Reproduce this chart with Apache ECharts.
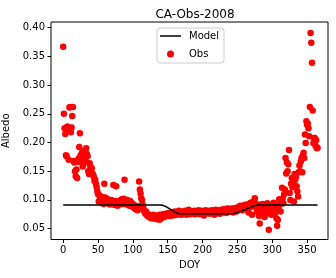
<!DOCTYPE html>
<html>
<head>
<meta charset="utf-8">
<script src="https://cdn.jsdelivr.net/npm/echarts@6/dist/echarts.min.js"></script>
<style>
html,body{margin:0;padding:0;background:#fff;}
#chart{width:336px;height:278px;}
</style>
</head>
<body>
<div id="chart"></div>
<script>
// Observed albedo, one value per DOY starting at 0
var obsStartDoy = 0;
var obsAlbedo = [
0.367,0.250,0.225,0.215,0.178,0.176,0.228,0.222,0.170,0.261,
0.262,0.218,0.226,0.246,0.262,0.168,0.165,0.150,0.141,0.153,
0.138,0.166,0.172,0.192,0.216,0.178,0.170,0.182,0.158,0.162,
0.185,0.174,0.168,0.190,0.180,0.176,0.150,0.145,0.164,0.158,
0.150,0.155,0.146,0.144,0.140,0.133,0.135,0.128,0.122,0.115,
0.110,0.097,0.108,0.103,0.100,0.095,0.105,0.098,0.093,0.128,
0.104,0.100,0.096,0.102,0.094,0.099,0.097,0.092,0.095,0.100,
0.098,0.093,0.126,0.096,0.091,0.098,0.124,0.094,0.090,0.097,
0.095,0.092,0.099,0.096,0.101,0.093,0.098,0.102,0.135,0.099,
0.096,0.092,0.100,0.097,0.094,0.090,0.098,0.093,0.095,0.091,
0.088,0.092,0.086,0.090,0.084,0.083,0.087,0.082,0.089,0.132,
0.118,0.111,0.103,0.100,0.092,0.086,0.082,0.078,0.076,0.080,
0.074,0.072,0.075,0.070,0.073,0.071,0.068,0.072,0.069,0.074,
0.071,0.067,0.073,0.070,0.068,0.072,0.066,0.070,0.074,0.066,
0.071,0.073,0.069,0.075,0.072,0.070,0.074,0.076,0.072,0.075,
0.073,0.077,0.074,0.072,0.076,0.078,0.074,0.076,0.073,0.077,
0.080,0.075,0.078,0.074,0.076,0.079,0.081,0.076,0.078,0.074,
0.080,0.077,0.075,0.079,0.076,0.081,0.078,0.074,0.077,0.080,
0.083,0.078,0.075,0.079,0.077,0.080,0.076,0.078,0.081,0.075,
0.079,0.077,0.080,0.076,0.082,0.078,0.075,0.079,0.081,0.077,
0.080,0.076,0.073,0.079,0.082,0.078,0.080,0.077,0.081,0.079,
0.076,0.080,0.078,0.082,0.079,0.077,0.081,0.074,0.079,0.083,
0.080,0.078,0.082,0.079,0.081,0.076,0.080,0.083,0.078,0.081,
0.079,0.084,0.080,0.082,0.077,0.081,0.085,0.079,0.082,0.084,
0.080,0.083,0.085,0.081,0.078,0.084,0.082,0.086,0.083,0.080,
0.085,0.087,0.083,0.088,0.090,0.084,0.087,0.082,0.089,0.086,
0.091,0.088,0.085,0.092,0.089,0.087,0.078,0.093,0.090,0.095,
0.088,0.074,0.096,0.091,0.098,0.103,0.094,0.088,0.082,0.079,
0.085,0.072,0.059,0.092,0.078,0.086,0.075,0.093,0.081,0.070,
0.088,0.083,0.076,0.094,0.080,0.048,0.085,0.078,0.090,0.074,
0.087,0.080,0.095,0.083,0.077,0.089,0.068,0.055,0.065,0.084,
0.101,0.092,0.080,0.098,0.121,0.102,0.094,0.110,0.118,0.173,
0.146,0.165,0.150,0.162,0.187,0.112,0.100,0.128,0.138,0.122,
0.132,0.097,0.145,0.135,0.140,0.124,0.115,0.106,0.148,0.160,
0.150,0.167,0.173,0.148,0.178,0.182,0.173,0.214,0.199,0.237,
0.231,0.233,0.225,0.211,0.262,0.391,0.374,0.339,0.256,0.199,
0.208,0.208,0.195,0.204,0.190,0.191
];
// Model curve
var modelDoy = [0,138,143,148,153,158,162,166,240,245,250,255,260,265,270,275,278,365];
var modelAlbedo = [0.091,0.091,0.0905,0.088,0.0845,0.0805,0.078,0.0757,0.0757,0.0765,0.078,0.0805,0.0825,0.085,0.0875,0.090,0.091,0.091];
var xTicks = [0,50,100,150,200,250,300,350];
var yTicks = [0.05,0.10,0.15,0.20,0.25,0.30,0.35,0.40];
var titleText = 'CA-Obs-2008';
var xName = 'DOY';
var yName = 'Albedo';

var obsData = obsAlbedo.map(function(v,i){return [obsStartDoy+i, v];});
var modelData = modelDoy.map(function(d,i){return [d, modelAlbedo[i]];});

var font = 'DejaVu Sans';
var chart = echarts.init(document.getElementById('chart'), null, {renderer:'canvas'});
chart.setOption({
  animation:false,
  backgroundColor:'#fff',
  title:{text:titleText,left:190,top:4,textAlign:'center',
    textStyle:{fontFamily:font,fontSize:12,fontWeight:'normal',color:'#000'}},
  legend:{
    orient:'vertical',left:157,top:28,
    padding:[2,5,3,3],itemGap:6,itemWidth:21,itemHeight:7,
    backgroundColor:'rgba(255,255,255,0.8)',borderColor:'#ccc',borderWidth:1,borderRadius:3,
    textStyle:{fontFamily:font,fontSize:10,color:'#000',padding:[0,0,0,3],lineHeight:12},
    data:[{name:'Model',icon:'path://M0,0H21V1.5H0Z'},{name:'Obs',icon:'circle'}]
  },
  grid:{left:51,right:8,top:22,bottom:38.5,show:true,borderColor:'#000',borderWidth:1,
    backgroundColor:'transparent',containLabel:false,outerBoundsMode:'none'},
  xAxis:{type:'value',min:-17.5,max:380,
    name:xName,nameLocation:'middle',nameGap:19,
    nameTextStyle:{fontFamily:font,fontSize:10,color:'#000'},
    axisLine:{show:false,onZero:false},
    axisTick:{show:true,inside:false,length:3.5,lineStyle:{color:'#000'},customValues:xTicks},
    axisLabel:{fontFamily:font,fontSize:10,color:'#000',margin:6,customValues:xTicks},
    splitLine:{show:false}},
  yAxis:{type:'value',min:0.031,max:0.41,
    name:yName,nameLocation:'middle',nameGap:29,
    nameTextStyle:{fontFamily:font,fontSize:10,color:'#000'},
    axisLine:{show:false,onZero:false},
    axisTick:{show:true,inside:false,length:3.5,lineStyle:{color:'#000'},customValues:yTicks},
    axisLabel:{fontFamily:font,fontSize:10,color:'#000',margin:6,customValues:yTicks,
      formatter:function(v){return v.toFixed(2);}},
    splitLine:{show:false}},
  series:[
    {name:'Model',type:'line',data:modelData,symbol:'none',smooth:false,z:5,
      lineStyle:{color:'#000',width:1.5},itemStyle:{color:'#000'}},
    {name:'Obs',type:'scatter',data:obsData,symbol:'circle',symbolSize:6.5,z:3,
      itemStyle:{color:'#ff0000',opacity:1}}
  ]
});
</script>
</body>
</html>
